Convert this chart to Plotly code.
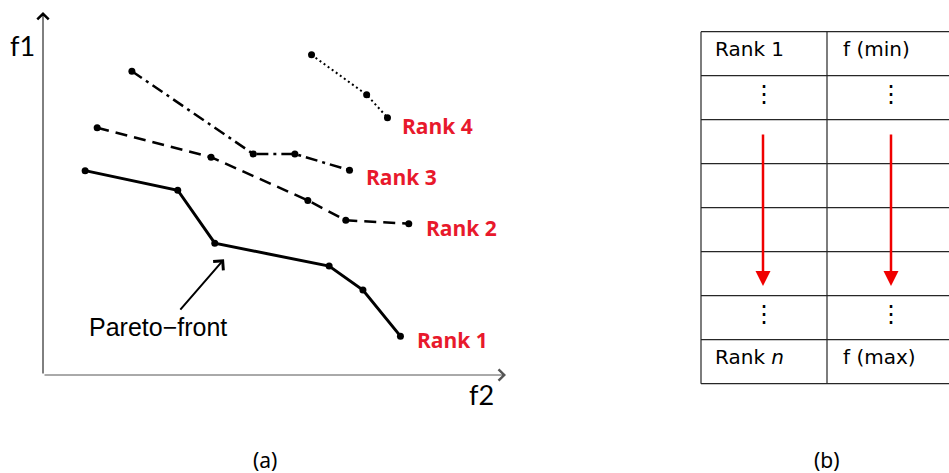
import plotly.graph_objects as go

W, H = 949, 473

# Non-dominated fronts in objective space: f2 on the x axis, f1 on the y axis
rank1_f2 = [0.91, 2.91, 3.71, 6.18, 6.91, 7.72]
rank1_f1 = [5.63, 5.09, 3.63, 3.00, 2.34, 1.07]

rank2_f2 = [1.17, 3.63, 5.72, 6.54, 7.90]
rank2_f1 = [6.81, 6.00, 4.81, 4.26, 4.17]

rank3_f2 = [1.92, 4.54, 5.44, 6.62]
rank3_f1 = [8.37, 6.09, 6.09, 5.64]

rank4_f2 = [5.80, 6.99, 7.44]
rank4_f1 = [8.82, 7.72, 7.09]

rank_names = ["Rank 1", "Rank 2", "Rank 3", "Rank 4"]
rank_dashes = ["solid", "12px,7px", "12px,5px,3px,5px", "2px,3px"]
rank_widths = [3, 2.5, 2.5, 2]
# label offset from the last point of each front (px right, px down)
label_shift = [(15, 4), (15, 4), (14, 7), (13, 8)]

# Sorting table: column entries from top row to bottom row
table_rank_col = ["Rank 1", "⋮", "", "", "", "", "⋮", "Rank <i>n</i>"]
table_f_col = ["f (min)", "⋮", "", "", "", "", "⋮", "f (max)"]

RED_LABEL = "#E8192C"
RED_ARROW = "#F00000"

series = [
    (rank1_f2, rank1_f1),
    (rank2_f2, rank2_f1),
    (rank3_f2, rank3_f1),
    (rank4_f2, rank4_f1),
]

fig = go.Figure()
annotations = []
shapes = []

for (xs, ys), name, dash, lw, (dx, dy) in zip(series, rank_names, rank_dashes,
                                             rank_widths, label_shift):
    fig.add_trace(go.Scatter(
        x=xs, y=ys, mode="lines+markers", name=name,
        line=dict(color="black", width=lw, dash=dash),
        marker=dict(color="black", size=7),
        showlegend=False, hoverinfo="skip",
    ))
    annotations.append(dict(
        x=xs[-1], y=ys[-1], xref="x", yref="y", text=f"<b>{name}</b>",
        showarrow=False, xanchor="left", yanchor="middle",
        xshift=dx, yshift=-dy,
        font=dict(family="Open Sans", size=21, color=RED_LABEL),
    ))

# objective axes drawn as open-headed arrows from the origin
annotations.append(dict(x=0, y=10, ax=0, ay=0, xref="x", yref="y",
                        axref="x", ayref="y", text="", showarrow=True,
                        arrowhead=4, arrowsize=2.2, arrowwidth=1,
                        arrowcolor="black"))
annotations.append(dict(x=10, y=0, ax=0, ay=0, xref="x", yref="y",
                        axref="x", ayref="y", text="", showarrow=True,
                        arrowhead=4, arrowsize=2.2, arrowwidth=1,
                        arrowcolor="#555555"))


def px_x(p):
    return p / W


def px_y(p):
    return 1 - p / H


def paper_text(x, y, text, family, size, xanchor="center"):
    return dict(x=px_x(x), y=px_y(y), xref="paper", yref="paper", text=text,
                showarrow=False, xanchor=xanchor, yanchor="middle",
                font=dict(family=family, size=size, color="black"))


annotations += [
    paper_text(22, 46, "f1", "Lato", 27),
    paper_text(481, 394, "f2", "Lato", 27),
    paper_text(265, 460, "(a)", "Noto Sans", 21),
    paper_text(827, 460, "(b)", "Noto Sans", 21),
]

# Pareto-front callout pointing at the first front
annotations.append(dict(x=3.91, y=3.19, xref="x", yref="y", ax=-45, ay=52,
                        text="", showarrow=True, arrowhead=4, arrowsize=1.3,
                        arrowwidth=2, arrowcolor="black"))
annotations.append(dict(x=0.95, y=1.32, xref="x", yref="y",
                        text="Pareto\u2212front", showarrow=False,
                        xanchor="left", yanchor="middle",
                        font=dict(family="Liberation Sans", size=25,
                                  color="black")))

# ---- sorting table (b) ----
t_left, t_div, t_right = 701, 827, 949
t_top, row_h = 31.7, 44
n_rows = len(table_rank_col)
line_col = "#262626"
for i in range(n_rows + 1):
    yy = t_top + i * row_h
    shapes.append(dict(type="line", xref="paper", yref="paper",
                       x0=px_x(t_left), x1=px_x(t_right), y0=px_y(yy),
                       y1=px_y(yy), line=dict(color=line_col, width=1.2)))
for xx in (t_left, t_div):
    shapes.append(dict(type="line", xref="paper", yref="paper",
                       x0=px_x(xx), x1=px_x(xx), y0=px_y(t_top),
                       y1=px_y(t_top + n_rows * row_h),
                       line=dict(color=line_col, width=1.2)))

for i, (c1, c2) in enumerate(zip(table_rank_col, table_f_col)):
    yc = t_top + i * row_h + row_h / 2 - 5
    for txt, left, center in ((c1, 713, 764), (c2, 841, 891)):
        if not txt:
            continue
        if txt == "⋮":
            annotations.append(paper_text(center, yc + 1, txt,
                                          "DejaVu Sans", 24))
        else:
            annotations.append(paper_text(left, yc, txt, "DejaVu Sans", 20,
                                          xanchor="left"))

# red downward arrows: rank grows as objective value grows
for xc in (763, 891):
    annotations.append(dict(x=px_x(xc), y=px_y(286), xref="paper",
                            yref="paper", ax=0, ay=-153, text="",
                            showarrow=True, arrowhead=2, arrowsize=1.2,
                            arrowwidth=2.5, arrowcolor=RED_ARROW))

x_dom = [px_x(43), px_x(506)]
y_dom = [px_y(375), px_y(12)]

fig.update_layout(
    width=W, height=H, autosize=False,
    margin=dict(l=0, r=0, t=0, b=0),
    paper_bgcolor="white", plot_bgcolor="white",
    xaxis=dict(domain=x_dom, range=[0, 10], showgrid=False, zeroline=False,
               showticklabels=False, showline=False, ticks="",
               fixedrange=True),
    yaxis=dict(domain=y_dom, range=[0, 10], showgrid=False, zeroline=False,
               showticklabels=False, showline=False, ticks="",
               fixedrange=True),
    annotations=annotations, shapes=shapes,
)

fig.write_html("out.html")
